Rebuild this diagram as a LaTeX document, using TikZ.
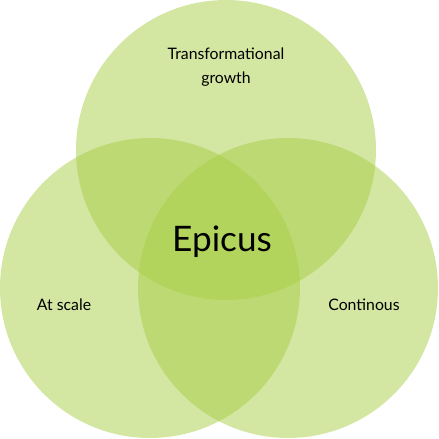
\documentclass[tikz,border=0pt]{standalone}
\usepackage{fontspec}
\setmainfont{Lato}
\usepackage{xcolor}
\definecolor{venngreen}{HTML}{A7CD45}
\usepackage{tikz}
\usetikzlibrary{positioning}

\tikzset{
  setcirc/.style={circle, fill=venngreen, fill opacity=0.5, minimum size=6cm, inner sep=0pt},
  setlabel/.style={font=\fontsize{9}{13.6}\selectfont, align=center, text=black},
}

\begin{document}
\begin{tikzpicture}[x=0.02cm, y=-0.02cm]
  \useasboundingbox (0,0) rectangle (439,439);
  % the three sets
  \node[setcirc] (top) at (226,150) {};
  \node[setcirc] (left) at (150,288) {};
  \node[setcirc] (right) at (288,288) {};
  % labels
  \node[setlabel] (toplbl) at (226,67) {Transformational\\growth};
  \node[setlabel] (leftlbl) at (64,305) {At scale};
  \node[setlabel] (rightlbl) at (364,305) {Continous};
  \node[font=\fontsize{20}{24}\selectfont] (core) at (222,242) {Epicus};
\end{tikzpicture}
\end{document}
